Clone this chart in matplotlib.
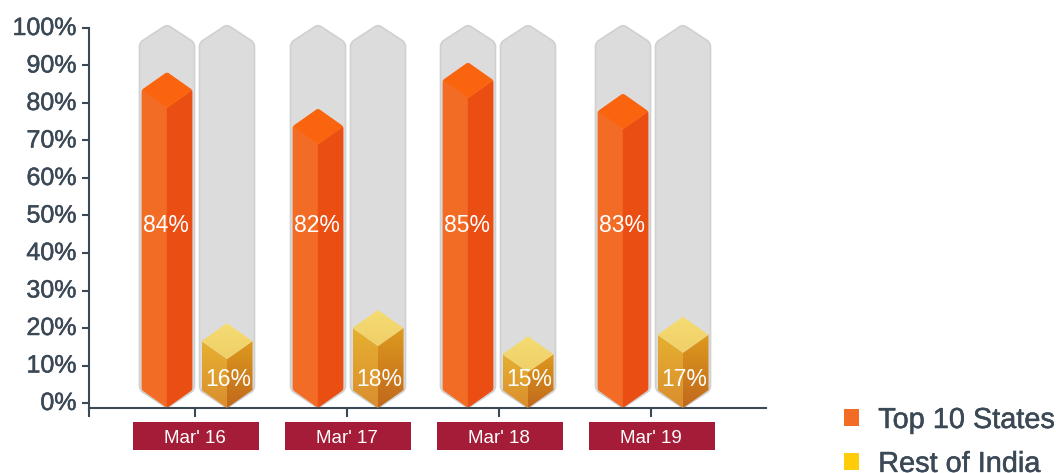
import matplotlib
matplotlib.use('Agg')
import matplotlib.pyplot as plt
import matplotlib.patheffects as pe
from matplotlib.patches import Patch, PathPatch, Polygon, Rectangle
from matplotlib.path import Path
from matplotlib.colors import LinearSegmentedColormap
import numpy as np

plt.rcParams['font.family'] = ['Liberation Sans', 'DejaVu Sans']

# data
periods = ["Mar' 16", "Mar' 17", "Mar' 18", "Mar' 19"]
top10_labels = ['84%', '82%', '85%', '83%']
rest_labels = ['16%', '18%', '15%', '17%']
# drawn heights (shoulder of each block) differ from the printed labels
top10_heights = [83.5, 73.8, 86.1, 77.8]
rest_heights = [16.5, 20.0, 13.0, 18.2]
y_ticks = [0, 10, 20, 30, 40, 50, 60, 70, 80, 90, 100]

INK = '#3b4856'
W, H = 1056, 473

fig = plt.figure(figsize=(W / 100, H / 100), dpi=100)
# axes box in pixels: x 89-766, y 28-408
ax = fig.add_axes([89 / W, 1 - 408 / H, (766 - 89) / W, (408 - 28) / H])

# one category is 152 px wide, 1% is 3.75 px tall
PX_X = 1 / 152
PX_Y = 1 / 3.75
XLIM = (-106 * PX_X, 571 * PX_X)
YLIM = (-5 * PX_Y, 100)
ax.set_xlim(*XLIM)
ax.set_ylim(*YLIM)

BOTTOM_TIP = -5 * PX_Y
PEAK = 18 * PX_Y
# pixel offsets of the two columns from each tick
left_offset = [-28, -29, -31, -28]
right_offset = [32, 31, 29, 32]
# thin stroke so the text sits a little heavier, like the reference
heavier = [pe.withStroke(linewidth=0.35, foreground=INK)]


def rounded(points, radius=3.0):
    # closed path with small rounded corners, radius in pixels
    pts = np.array(points, dtype=float)
    scale = np.array([1 / PX_X, 1 / PX_Y])
    n = len(pts)
    verts, codes = [], []
    for i in range(n):
        p, prev, nxt = pts[i], pts[i - 1], pts[(i + 1) % n]
        d1 = (prev - p) * scale
        d2 = (nxt - p) * scale
        a = p + (prev - p) * radius / np.hypot(*d1)
        b = p + (nxt - p) * radius / np.hypot(*d2)
        verts.append(a)
        codes.append(Path.MOVETO if i == 0 else Path.LINETO)
        verts += [p, b]
        codes += [Path.CURVE3, Path.CURVE3]
    verts.append(verts[0])
    codes.append(Path.CLOSEPOLY)
    return Path(verts, codes)


def hexagon(xc, half, shoulder):
    h = half * PX_X
    return [(xc, shoulder + PEAK), (xc + h, shoulder), (xc + h, BOTTOM_TIP + PEAK),
            (xc, BOTTOM_TIP), (xc - h, BOTTOM_TIP + PEAK), (xc - h, shoulder)]


def gradient_face(pts, c_top, c_bottom):
    poly = Polygon(pts, closed=True, fc='none', ec='none', transform=ax.transData)
    ax.add_patch(poly)
    xs = [p[0] for p in pts]
    ys = [p[1] for p in pts]
    cmap = LinearSegmentedColormap.from_list('f', [c_bottom, c_top])
    im = ax.imshow(np.linspace(0, 1, 64).reshape(-1, 1), cmap=cmap, origin='lower', aspect='auto',
                   extent=[min(xs), max(xs), min(ys), max(ys)], zorder=3)
    im.set_clip_path(poly)
    return im


def block(xc, shoulder, half, top, left, right):
    h = half * PX_X
    outline = PathPatch(rounded(hexagon(xc, half, shoulder), 2.5), fc='none', ec='none')
    ax.add_patch(outline)
    seam = shoulder - PEAK
    faces = [
        ([(xc - h, shoulder), (xc, seam), (xc, BOTTOM_TIP), (xc - h, BOTTOM_TIP + PEAK)], left),
        ([(xc, seam), (xc + h, shoulder), (xc + h, BOTTOM_TIP + PEAK), (xc, BOTTOM_TIP)], right),
        ([(xc, shoulder + PEAK), (xc + h, shoulder), (xc, seam), (xc - h, shoulder)], top),
    ]
    for pts, col in faces:
        if isinstance(col, str):
            face = Polygon(pts, closed=True, fc=col, ec=col, lw=0.3, zorder=3)
            ax.add_patch(face)
            face.set_clip_path(outline)
        else:
            gradient_face(pts, col[0], col[1])


for i in range(len(periods)):
    xl = i + left_offset[i] * PX_X
    xr = i + right_offset[i] * PX_X
    # grey tracks behind the blocks
    for xc in (xl, xr):
        ax.add_patch(PathPatch(rounded(hexagon(xc, 27.5, 96.1), 4), fc='#dcdcdc', ec='#d0d0d0',
                               lw=1.2, zorder=2, clip_on=False))
    block(xl, top10_heights[i], 25.5, '#fb640f', '#f26c26', '#ea4e12')
    block(xr, rest_heights[i], 25.5, ('#f4dd72', '#f0cf68'), ('#e6b030', '#da8e2e'),
          ('#dd9a1e', '#c1681c'))
    ax.text(xl - 1 * PX_X, 47.2, top10_labels[i], color='white', fontsize=16.5, ha='center', va='center', zorder=5)
    ax.text(xr + 1 * PX_X, 6.2, rest_labels[i], color='white', fontsize=16.5, ha='center', va='center', zorder=5)
    # maroon plate behind the period label
    ax.add_patch(Rectangle((i - 62 * PX_X, -19 * PX_Y), 126 * PX_X, -28 * PX_Y,
                           fc='#a51c38', ec='none', clip_on=False, zorder=1))

ax.set_xlim(*XLIM)
ax.set_ylim(*YLIM)

ax.set_yticks(y_ticks)
ax.set_yticklabels([f'{v}%' for v in y_ticks])
ax.tick_params(axis='y', length=5, width=1.5, color=INK, labelcolor=INK, labelsize=18, pad=4)
for lab in ax.get_yticklabels():
    lab.set_path_effects(heavier)
    lab.set_verticalalignment('center')
    lab.set_y(lab.get_position()[1])
ax.set_xticks(range(len(periods)))
ax.set_xticklabels(periods)
ax.tick_params(axis='x', length=6.5, width=1.5, color=INK, labelcolor='white', labelsize=13.5, pad=9)

for side in ('top', 'right'):
    ax.spines[side].set_visible(False)
for side in ('left', 'bottom'):
    ax.spines[side].set_color(INK)
    ax.spines[side].set_linewidth(1.5)
# left axis runs a little past the baseline
ax.plot([0, 0], [0, -9 / 380], transform=ax.transAxes, color=INK, lw=1.5, clip_on=False, solid_capstyle='butt')

handles = [Patch(fc='#f26c26', ec='none', label='Top 10 States'),
           Patch(fc='#ffcc0a', ec='none', label='Rest of India')]
leg = fig.legend(handles=handles, loc='lower left', bbox_to_anchor=(821 / W, -28 / H), frameon=False,
                 fontsize=20.8, labelcolor=INK, handlelength=0.53, handleheight=0.53,
                 handletextpad=0.65, labelspacing=0.55, borderpad=0.3)
for t in leg.get_texts():
    t.set_path_effects(heavier)

fig.savefig('out.png', dpi=100)
